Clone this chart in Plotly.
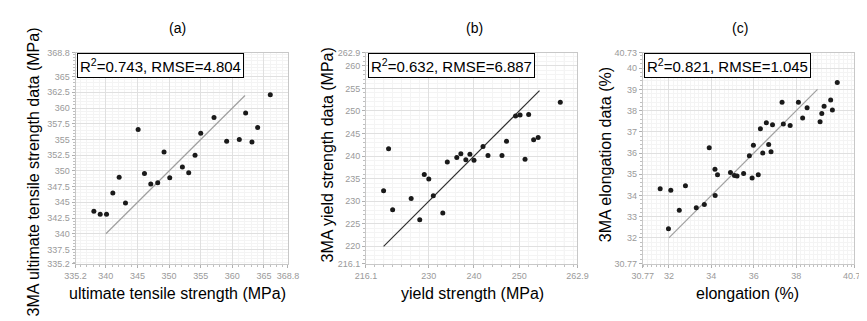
import plotly.graph_objects as go

# ---------------- data ----------------
uts_measured = [338.1, 339.1, 340.1, 341.1, 342.1, 343.1, 345.1, 346.1, 347.1, 348.2, 349.2, 350.1,
                352.1, 353.1, 354.1, 355.0, 357.1, 359.1, 361.1, 362.1, 363.1, 364.0, 366.0]
uts_3ma = [343.6, 343.1, 343.1, 346.5, 349.0, 344.9, 356.6, 349.6, 347.9, 348.1, 353.0, 348.9,
           350.6, 349.7, 352.5, 356.0, 358.5, 354.7, 355.0, 359.2, 354.6, 356.9, 362.1]

ys_measured = [220.0, 221.1, 222.0, 226.1, 228.0, 229.0, 230.0, 231.0, 233.1, 234.1, 236.2, 237.1,
               238.2, 239.1, 240.0, 242.0, 243.1, 246.2, 247.2, 249.2, 250.2, 251.3, 252.1, 253.2,
               254.2, 259.1]
ys_3ma = [232.3, 241.6, 228.1, 230.6, 225.9, 235.9, 234.9, 231.2, 227.4, 238.7, 239.7, 240.5,
          239.2, 240.4, 239.1, 242.1, 240.1, 240.1, 243.3, 248.9, 249.1, 239.3, 249.2, 243.6,
          244.1, 251.9]

el_measured = [31.59, 31.98, 32.09, 32.49, 32.78, 33.29, 33.67, 33.90, 34.17, 34.18, 34.29, 34.90,
               35.09, 35.21, 35.52, 35.79, 35.92, 35.98, 36.21, 36.31, 36.42, 36.59, 36.70, 36.81,
               36.88, 37.33, 37.39, 37.71, 38.10, 38.30, 38.51, 39.12, 39.20, 39.31, 39.62, 39.70,
               39.93]
el_3ma = [34.31, 32.43, 34.25, 33.30, 34.46, 33.42, 33.57, 36.25, 35.23, 34.00, 34.97, 35.08,
          34.94, 34.92, 35.03, 35.87, 34.82, 36.37, 34.97, 37.15, 36.00, 37.43, 36.40, 36.06,
          37.33, 38.39, 37.37, 37.30, 38.39, 37.65, 38.14, 37.47, 37.86, 38.21, 38.50, 38.03,
          39.32]

fit_a = [340, 362]
fit_b = [220, 254.5]
fit_c = [32, 39]

panel_titles = ["(a)", "(b)", "(c)"]
x_titles = ["ultimate tensile strength (MPa)", "yield strength (MPa)", "elongation (%)"]
y_titles = ["3MA ultimate tensile strength data (MPa)", "3MA yield strength data (MPa)",
            "3MA elongation data (%)"]
stats_text = ["R<sup>2</sup>=0.743, RMSE=4.804", "R<sup>2</sup>=0.632, RMSE=6.887",
              "R<sup>2</sup>=0.821, RMSE=1.045"]

ranges = [(335.2, 368.8), (216.1, 262.9), (30.77, 40.73)]
x_tickvals = [[335.2, 340, 345, 350, 355, 360, 365, 368.8],
              [216.1, 230, 240, 250, 262.9],
              [30.77, 32, 34, 36, 38, 40.73]]
x_ticktext = [["335.2", "340", "345", "350", "355", "360", "365", "368.8"],
              ["216.1", "230", "240", "250", "262.9"],
              ["30.77", "32", "34", "36", "38", "40.73"]]
x_extra_grid = [[], [220, 260], [40]]
y_tickvals = [[335.2, 337.5, 340, 342.5, 345, 347.5, 350, 352.5, 355, 357.5, 360, 362.5, 365, 368.8],
              [216.1, 220, 225, 230, 235, 240, 245, 250, 255, 260, 262.9],
              [30.77, 32, 33, 34, 35, 36, 37, 38, 39, 40, 40.73]]
y_ticktext = [[str(v) for v in y_tickvals[0]],
              [str(v) for v in y_tickvals[1]],
              [str(v) for v in y_tickvals[2]]]
x_minor = [1, 2, 0.2]
y_minor = [0.5, 1, 0.2]
minor_tick0 = [0, 0, 30]
line_colors = ["#a0a0a0", "#303030", "#a0a0a0"]

xs = [uts_measured, ys_measured, el_measured]
ys = [uts_3ma, ys_3ma, el_3ma]
fits = [fit_a, fit_b, fit_c]

# ---------------- layout geometry ----------------
W, H = 867, 321
x_domains = [(58 / W, 276 / W), (356 / W, 573 / W), (640 / W, 857 / W)]
y_domain = (1 - 259 / H, 1 - 41 / H)
title_x = [163, 467, 740]
xtitle_x = [163, 465, 747]
ytitle_x = [15, 316, 602]
ytitle_y = [164, 146, 146]

FONT = "Liberation Sans, Arial, sans-serif"
MAJOR_GRID = "#e0e0e0"
MINOR_GRID = "#f4f4f4"

fig = go.Figure()
for i in range(3):
    sx = "" if i == 0 else str(i + 1)
    fig.add_trace(go.Scatter(x=fits[i], y=fits[i], mode="lines",
                             line=dict(color=line_colors[i], width=1.2),
                             xaxis="x" + sx, yaxis="y" + sx, showlegend=False))
    fig.add_trace(go.Scatter(x=xs[i], y=ys[i], mode="markers",
                             marker=dict(color="#1a1a1a", size=5),
                             xaxis="x" + sx, yaxis="y" + sx, showlegend=False))

    common = dict(showline=True, linecolor="#c8c8c8", linewidth=1, mirror=True,
                  showgrid=True, gridcolor=MAJOR_GRID, gridwidth=1, zeroline=False,
                  ticks="outside", ticklen=3, tickcolor="#b0b0b0",
                  tickfont=dict(family=FONT, size=9, color="#9a9a9a"),
                  tickmode="array")
    xa = dict(common, domain=x_domains[i], range=list(ranges[i]),
              tickvals=x_tickvals[i], ticktext=x_ticktext[i],
              anchor="y" + sx,
              minor=dict(ticks="outside", ticklen=2, tickcolor="#c0c0c0",
                         dtick=x_minor[i], tick0=minor_tick0[i],
                         showgrid=True, gridcolor=MINOR_GRID))
    ya = dict(common, domain=list(y_domain), range=list(ranges[i]),
              tickvals=y_tickvals[i], ticktext=y_ticktext[i],
              anchor="x" + sx,
              minor=dict(ticks="outside", ticklen=2, tickcolor="#c0c0c0",
                         dtick=y_minor[i], tick0=minor_tick0[i],
                         showgrid=True, gridcolor=MINOR_GRID))
    fig.layout["xaxis" + sx] = xa
    fig.layout["yaxis" + sx] = ya

    # unlabeled major grid lines
    for gv in x_extra_grid[i]:
        fig.add_shape(type="line", xref="x" + sx, yref="y" + sx + " domain",
                      x0=gv, x1=gv, y0=0, y1=1, layer="below",
                      line=dict(color=MAJOR_GRID, width=1))

    # stats box
    fig.add_annotation(text=stats_text[i], xref="x" + sx + " domain", yref="y" + sx + " domain",
                       x=0.008, y=0.997, xanchor="left", yanchor="top", showarrow=False,
                       font=dict(family=FONT, size=15, color="#000000"),
                       bgcolor="#ffffff", bordercolor="#000000", borderwidth=1, borderpad=2)
    # panel title
    fig.add_annotation(text=panel_titles[i], xref="paper", yref="paper",
                       x=title_x[i] / W, y=1 - 15 / H, xanchor="center", yanchor="middle",
                       showarrow=False, font=dict(family=FONT, size=14, color="#000000"))
    # x title
    fig.add_annotation(text=x_titles[i], xref="paper", yref="paper",
                       x=xtitle_x[i] / W, y=1 - 290 / H, xanchor="center", yanchor="middle",
                       showarrow=False, font=dict(family=FONT, size=16, color="#000000"))
    # y title
    fig.add_annotation(text=y_titles[i], xref="paper", yref="paper", textangle=-90,
                       x=ytitle_x[i] / W, y=1 - ytitle_y[i] / H, xanchor="center", yanchor="middle",
                       showarrow=False, font=dict(family=FONT, size=16, color="#000000"))

fig.update_layout(width=W, height=H, margin=dict(l=0, r=0, t=0, b=0),
                  paper_bgcolor="#ffffff", plot_bgcolor="#ffffff",
                  font=dict(family=FONT))

fig.write_html("out.html")
